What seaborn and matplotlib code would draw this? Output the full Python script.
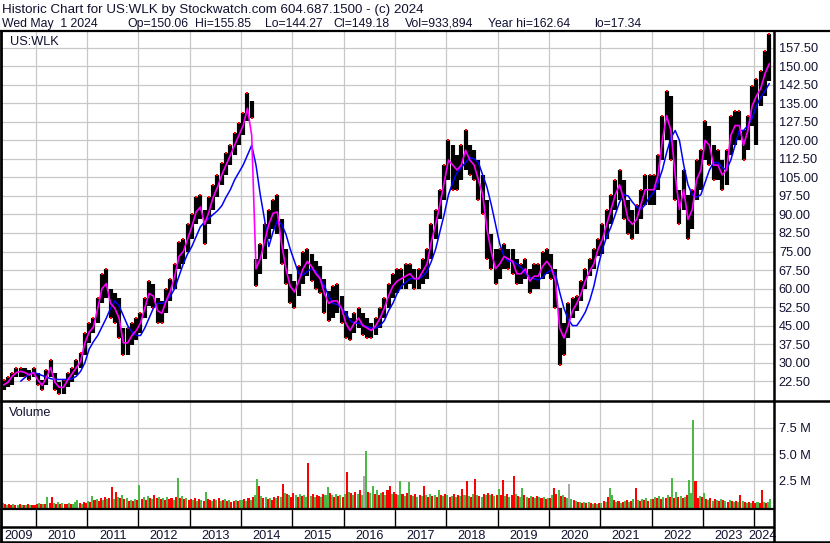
import numpy as np
import pandas as pd
import matplotlib
matplotlib.use("Agg")
import matplotlib.pyplot as plt
from matplotlib.lines import Line2D
import seaborn as sns

# ---------------- data (monthly, May 2009 .. Apr 2024) ----------------
price_high = [
    23, 24, 26, 28, 28, 28, 27, 28,                                   # 2009 May-Dec
    26, 23, 27, 31, 26, 22, 23, 26, 28, 31, 34, 42,                   # 2010
    46, 48, 56, 66, 68, 60, 58, 56, 44, 44, 46, 48,                   # 2011
    50, 56, 63, 62, 56, 55, 60, 64, 70, 79, 80, 86,                   # 2012
    90, 97, 98, 92, 97, 102, 106, 111, 115, 118, 123, 127,            # 2013
    131, 139, 136, 72, 78, 86, 92, 96, 98, 88, 76, 66,                # 2014
    63, 69, 75, 76, 74, 71, 69, 64, 59, 61, 62, 57,                   # 2015
    51, 48, 50, 52, 50, 48, 46, 48, 52, 56, 62, 66,                   # 2016
    68, 68, 70, 70, 68, 68, 72, 76, 86, 92, 100, 110,                 # 2017
    120, 118, 114, 118, 124, 118, 116, 112, 106, 96, 82, 76,          # 2018
    76, 78, 76, 76, 72, 70, 72, 68, 70, 70, 75, 76,                   # 2019
    74, 68, 52, 46, 54, 56, 57, 63, 68, 72, 76, 80,                   # 2020
    86, 92, 98, 104, 108, 104, 96, 92, 94, 100, 106, 106,             # 2021
    106, 114, 130, 140, 138, 120, 100, 108, 98, 100, 112, 116,        # 2022
    128, 126, 118, 116, 112, 116, 130, 132, 132, 124, 130, 142,       # 2023
    145, 148, 156, 163,                                               # 2024 Jan-Apr
]
price_low = [
    19, 20, 21, 24, 24, 24, 23, 24,
    21, 19, 21, 24, 19, 17.3, 17.5, 20, 22, 25, 28, 33,
    38, 42, 46, 54, 56, 48, 46, 40, 33, 33, 37, 39,
    42, 48, 53, 52, 46, 46, 50, 55, 60, 68, 70, 75,
    80, 86, 88, 78, 86, 92, 97, 102, 106, 110, 114, 118,
    122, 128, 129, 61, 66, 72, 80, 84, 82, 70, 62, 54,
    52, 57, 62, 65, 63, 60, 58, 50, 47, 48, 50, 46,
    40, 39, 42, 44, 41, 40, 40, 41, 44, 48, 52, 56,
    58, 60, 60, 62, 60, 60, 62, 64, 72, 80, 88, 96,
    104, 100, 100, 104, 108, 106, 104, 96, 90, 72, 68, 62,
    64, 68, 68, 66, 62, 62, 64, 58, 60, 60, 64, 66,
    64, 52, 29, 33, 40, 48, 51, 55, 60, 65, 68, 73,
    74, 80, 86, 92, 96, 88, 82, 80, 82, 88, 94, 94,
    94, 100, 112, 120, 112, 96, 86, 92, 80, 84, 96, 100,
    112, 110, 104, 104, 100, 102, 114, 118, 120, 112, 116, 126,
    118, 134, 138, 144,
]
ma_short = [   # magenta line
    21, 22, 24.5, 26, 26.5, 26, 25, 26,
    23, 20.8, 24, 28, 22, 20, 20, 23, 25.5, 28, 30.5, 38,
    42.4, 44.4, 52, 60, 62, 54, 52, 48, 38, 38, 41, 43,
    46, 52, 58, 57, 51, 50, 55, 59, 65, 73, 75, 80,
    85, 91, 93, 86, 91, 97, 101, 106, 110, 114, 118, 122,
    126, 133, 122, 68, 72, 79, 86, 90.5, 91, 78, 68, 61,
    58.6, 63, 68, 71, 69, 66, 64, 58, 54, 55, 55, 52,
    46, 43, 46, 48, 45, 44, 43, 45, 48, 52, 57, 61,
    63, 64, 65, 66, 64, 64, 67, 70, 79, 86, 94, 103,
    112, 110, 108, 110, 116, 112, 110, 104, 98, 84, 75, 68,
    70, 73, 72, 71, 66, 66, 68, 63, 65, 65, 69, 71,
    68.7, 63, 44, 40, 45, 51, 54, 58, 63, 67, 70, 76,
    80, 86, 92, 98, 102, 96, 88, 86, 88, 94, 100, 100,
    100, 106, 120, 130, 124, 106, 92, 100, 88, 92, 104, 108,
    120, 118, 110, 110, 106, 108, 122, 126, 126, 118, 124, 134,
    138, 141, 147, 151,
]
ma_long = [    # blue line
    None, None, None, None, 22.5, 24, 25.5, 26,
    25.5, 24.8, 24.2, 23.5, 23.2, 23.2, 23.2, 23.2, 23.5, 24.5, 26.5, 30,
    35.5, 38.5, 41, 44.5, 48, 52, 55, 53, 49, 45, 42.5, 41,
    41, 44, 48, 52, 54, 54, 55, 57, 60, 65, 70, 74,
    77, 81, 85, 87, 88.5, 90, 91.5, 93.5, 97, 100, 104, 107,
    110, 114, 118, 110, 98, 88, 77, 83, 87.5, 86, 82, 76,
    71, 66, 65.5, 67, 68, 67, 64, 61, 57, 54, 53.5, 52,
    50, 47, 46, 46, 45, 44.5, 44, 44, 45, 47, 51, 54,
    58, 61, 62.5, 64, 64, 64, 65, 67, 71, 76, 83, 90,
    98, 103, 107, 109, 111, 113, 112.5, 111, 106, 101, 94, 86,
    78, 73, 71, 71, 70, 68.5, 66, 64.5, 64, 63.5, 64.5, 66.5,
    67.4, 66, 58.5, 52, 47.5, 45, 45, 47.5, 50.5, 55, 61, 69,
    76, 81, 85, 90, 95, 98, 97.5, 95, 93, 92, 94, 97,
    99, 103, 108, 115, 121, 124, 120, 110, 102, 98, 97, 98,
    103, 108, 111, 111, 109, 108, 112, 118, 124, 124, 126, 129,
    134, 137.5, 140, 143,
]

# volume, half-monthly, millions of shares
volume = [
    0.4, 0.3, 0.2, 0.3, 0.2, 0.3, 0.2, 0.25, 0.3, 0.2, 0.25, 0.2, 0.3, 0.2, 0.25, 0.2,
    0.3, 0.4, 0.3, 0.35, 0.3, 1.0, 0.4, 1.0, 0.4, 0.3, 0.5, 0.3, 0.4, 0.35, 0.3, 0.4, 0.3, 0.35, 0.5, 0.7, 0.4, 0.3, 0.5, 0.4,
    0.6, 0.5, 1.1, 0.7, 0.8, 0.6, 0.9, 0.7, 1.0, 0.8, 0.9, 1.9, 0.8, 1.5, 1.0, 0.9, 1.2, 0.8, 0.9, 0.6, 0.7, 0.6, 0.8, 0.7,
    2.1, 0.8, 1.0, 0.7, 1.1, 0.9, 0.8, 1.2, 0.9, 1.0, 0.8, 0.9, 0.7, 1.0, 0.8, 0.9, 0.7, 1.0, 2.8, 0.9, 1.1, 0.8, 0.9, 0.7,
    0.8, 0.7, 0.9, 0.6, 0.8, 0.7, 0.6, 1.5, 0.8, 0.7, 0.6, 0.8, 0.7, 0.9, 0.6, 0.7, 0.8, 0.6, 0.7, 0.5, 0.6, 0.7, 0.6, 0.7,
    0.7, 0.8, 0.6, 0.9, 0.7, 1.0, 1.2, 2.7, 2.0, 1.1, 0.9, 1.0, 0.8, 0.9, 0.7, 1.0, 0.9, 1.1, 1.0, 2.2, 1.4, 1.3, 1.2, 1.0,
    1.4, 1.2, 1.0, 1.3, 1.1, 1.2, 1.0, 4.2, 1.1, 1.3, 1.0, 1.2, 1.1, 1.0, 1.3, 1.2, 1.9, 1.4, 1.2, 1.0, 1.3, 1.1, 1.2, 1.0,
    1.3, 3.3, 1.5, 1.4, 1.2, 1.5, 1.3, 1.6, 1.2, 3.0, 5.3, 1.5, 1.4, 2.0, 1.3, 1.6, 1.2, 1.4, 1.5, 1.2, 1.6, 2.0, 1.3, 1.5,
    1.3, 1.2, 2.5, 1.3, 1.1, 1.4, 2.4, 1.2, 1.1, 1.3, 1.0, 1.2, 1.1, 2.0, 1.2, 1.0, 1.3, 1.1, 1.2, 1.0, 1.6, 1.2, 1.1, 1.3,
    1.2, 1.0, 1.1, 1.3, 1.0, 1.2, 1.1, 1.7, 1.2, 2.5, 1.1, 1.0, 1.3, 2.7, 1.2, 1.1, 1.0, 1.3, 1.2, 1.4, 1.2, 1.3, 1.1, 1.2,
    1.7, 1.2, 2.6, 1.1, 1.3, 1.0, 1.2, 3.0, 1.3, 1.1, 1.0, 1.8, 1.2, 1.0, 0.9, 1.1, 1.0, 0.9, 1.1, 1.0, 0.9, 1.0, 0.8, 0.9,
    0.9, 1.2, 1.8, 1.3, 1.6, 1.1, 1.2, 1.0, 0.9, 2.2, 0.8, 0.7, 0.6, 0.5, 0.5, 0.4, 0.5, 0.4, 0.5, 0.4, 0.3, 0.4, 0.3, 0.4,
    0.4, 0.6, 0.5, 1.0, 1.8, 1.2, 0.7, 0.5, 0.6, 0.4, 0.5, 0.6, 0.7, 0.5, 0.6, 0.8, 1.8, 0.7, 0.6, 0.8, 0.7, 0.9, 0.6, 0.8,
    0.8, 1.0, 0.9, 1.1, 0.8, 1.0, 0.9, 1.2, 1.0, 2.8, 0.9, 1.5, 1.0, 1.1, 0.9, 1.0, 1.2, 2.6, 1.4, 8.2, 2.5, 0.9, 1.1, 1.0,
    1.4, 0.8, 0.7, 0.9, 0.6, 0.8, 0.7, 0.6, 0.8, 0.7, 0.6, 0.5, 0.7, 0.6, 0.5, 0.6, 0.5, 1.2, 0.6, 0.5, 0.4, 0.5, 0.4, 0.6,
    0.4, 0.5, 0.4, 1.6, 0.5, 0.4, 0.5, 0.8,
]
volume_dir = (  # G = up, R = down, Y = unchanged
    "GRGRRGRGRGRGRGRR"
    "RGRGRGRRGRGRGRRGRGGGRGRR"
    "GRGRGRRGRGRRGRGRGRGRGRGR"
    "GRGRGRGRRGRGRGRRGRGRGRGR"
    "RGRGRGRGRRGRGRGRGRGRRGRG"
    "GRGRGRGGRGRGRGRRGRGRGRGR"
    "RGRGRGGRGRGRRGRGGRGRGRGR"
    "GRGRGRGRGYGRGGRGRGRGRRGR"
    "RGGRGRGRGRGRGRGRGRGRGRGR"
    "GRGRGRGRGRGRGRGRGRGRGRGR"
    "GRRGRGRRGRGGRGRGRGRGRGRG"
    "RGRRGRGRGYGRGRGRGRGRGRGR"
    "GRGRGGRGRGRGRGRGRGRGRGRG"
    "RGRGRGRGRGRGRGRGRGGGRRGR"
    "GRGRGRGRGRGRGRGRGRGRGRGR"
    "RGRRGRGG"
)

price_ticks = [22.5 + 7.5 * i for i in range(19)]
volume_ticks = [2.5, 5.0, 7.5]
volume_tick_labels = ["2.5 M", "5.0 M", "7.5 M"]
years = list(range(2009, 2025))

header_1 = "Historic Chart for US:WLK by Stockwatch.com 604.687.1500 - (c) 2024"
header_2 = [("Wed May  1 2024", 2), ("Op=150.06", 127), ("Hi=155.85", 195),
            ("Lo=144.27", 265), ("Cl=149.18", 333), ("Vol=933,894", 405),
            ("Year hi=162.64", 487.5), ("lo=17.34", 594)]

# ---------------- figure ----------------
sns.set_theme(style="white")
plt.rcParams['font.family'] = ['Liberation Sans', 'DejaVu Sans']
TXT = '#101030'
GRID = '#c8c8c8'
W, H = 830, 543
fig = plt.figure(figsize=(W / 100, H / 100), dpi=100)

def rect(x0, y0, x1, y1):
    return [x0 / W, 1 - y1 / H, (x1 - x0) / W, (y1 - y0) / H]

def fline(x0, y0, x1, y1, lw=1.0, color='black'):
    fig.add_artist(Line2D([x0 / W, x1 / W], [1 - y0 / H, 1 - y1 / H],
                          transform=fig.transFigure, color=color, lw=lw,
                          solid_capstyle='butt'))

T0 = 2009 + 4 / 12
month_t = T0 + (np.arange(len(price_high)) + 0.5) / 12
vol_t = T0 + (np.arange(len(volume)) + 0.5) / 24
XL = (2009.3435, 2024.3837)

df = pd.DataFrame({'t': month_t, 'hi': price_high, 'lo': price_low,
                   'fast': ma_short,
                   'slow': pd.to_numeric(pd.Series(ma_long), errors='coerce')})

# price panel
ax1 = fig.add_axes(rect(2, 31, 774, 400.5))
ax1.set_xlim(*XL)
ax1.set_ylim(14.68, 164.27)
for v in price_ticks:
    ax1.axhline(v, color=GRID, lw=0.9, zorder=0)
for y in years[1:]:
    ax1.axvline(y, color=GRID, lw=0.9, zorder=0)
ax1.vlines(df['t'], df['lo'], df['hi'], color='black', lw=3.0, zorder=2)
# red close ticks at the side the month moved toward
chg = np.diff(np.r_[ma_short[0], ma_short])
red_y = np.where(chg < 0, df['lo'], df['hi'])
sns.scatterplot(x=df['t'], y=red_y, color='#ff0000', marker='s', s=4,
                linewidth=0, ax=ax1, zorder=3)
sns.lineplot(data=df, x='t', y='slow', color='#0000ff', lw=1.1, ax=ax1,
             estimator=None, sort=False, zorder=4)
sns.lineplot(data=df, x='t', y='fast', color='#ff00ff', lw=1.2, ax=ax1,
             estimator=None, sort=False, zorder=5)
ax1.yaxis.tick_right()
ax1.set_yticks(price_ticks)
ax1.set_yticklabels([f"{v:.2f}" for v in price_ticks])
ax1.tick_params(axis='y', length=0, pad=3.5, labelsize=9.2, labelcolor=TXT)
ax1.set_xticks([])
ax1.set_xlabel('')
ax1.set_ylabel('')
for s in ax1.spines.values():
    s.set_visible(False)
ax1.text(8 / 772, 1 - 11 / 369.5, "US:WLK", transform=ax1.transAxes,
         fontsize=9.2, color=TXT, va='center', ha='left')

# volume panel
ax2 = fig.add_axes(rect(2, 402, 774, 508.5))
ax2.set_xlim(*XL)
ax2.set_ylim(-0.09, 9.9)
for v in volume_ticks:
    ax2.axhline(v, color=GRID, lw=0.9, zorder=0)
for y in years[1:]:
    ax2.axvline(y, color=GRID, lw=0.9, zorder=0)
cmap = {'G': '#4cb848', 'R': '#ff0000', 'Y': '#aaaaaa'}
ax2.bar(vol_t, volume, width=1 / 24 * 0.95, bottom=0,
        color=[cmap[c] for c in volume_dir], linewidth=0, zorder=2)
ax2.yaxis.tick_right()
ax2.set_yticks(volume_ticks)
ax2.set_yticklabels(volume_tick_labels)
ax2.tick_params(axis='y', length=0, pad=3.5, labelsize=9.2, labelcolor=TXT)
ax2.set_xticks([])
for s in ax2.spines.values():
    s.set_visible(False)
ax2.text(7 / 772, 1 - 11 / 106.5, "Volume", transform=ax2.transAxes,
         fontsize=9.2, color=TXT, va='center', ha='left')

# date strip
ax3 = fig.add_axes(rect(2, 509.5, 774, 527))
ax3.set_xlim(*XL)
ax3.set_ylim(0, 1)
for y in years[1:]:
    ax3.axvline(y, color='black', lw=1.0)
centers = [(max(y, T0) + min(y + 1, T0 + 15)) / 2 for y in years]
ax3.set_xticks(centers)
ax3.set_xticklabels([str(y) for y in years])
ax3.tick_params(axis='x', length=0, pad=2.5, labelsize=9.2, labelcolor=TXT)
ax3.set_yticks([])
for s in ax3.spines.values():
    s.set_visible(False)

# frame lines
fline(0, 30.5, 830, 30.5, lw=1.6)
fline(1, 30.5, 1, 543, lw=2.0)
fline(773.5, 30.5, 773.5, 543, lw=1.8)
fline(0, 400.8, 830, 400.8, lw=1.8)
fline(0, 509, 774, 509, lw=1.6)
fline(0, 527, 774, 527, lw=1.8)
fline(0, 542, 830, 542, lw=1.8)

# header
fig.text(2 / W, 1 - 12.7 / H, header_1, fontsize=9.6, color=TXT,
         ha='left', va='baseline')
for txt, x in header_2:
    fig.text(x / W, 1 - 27 / H, txt, fontsize=8.8, color=TXT,
             ha='left', va='baseline')

fig.savefig("out.png", dpi=100)
